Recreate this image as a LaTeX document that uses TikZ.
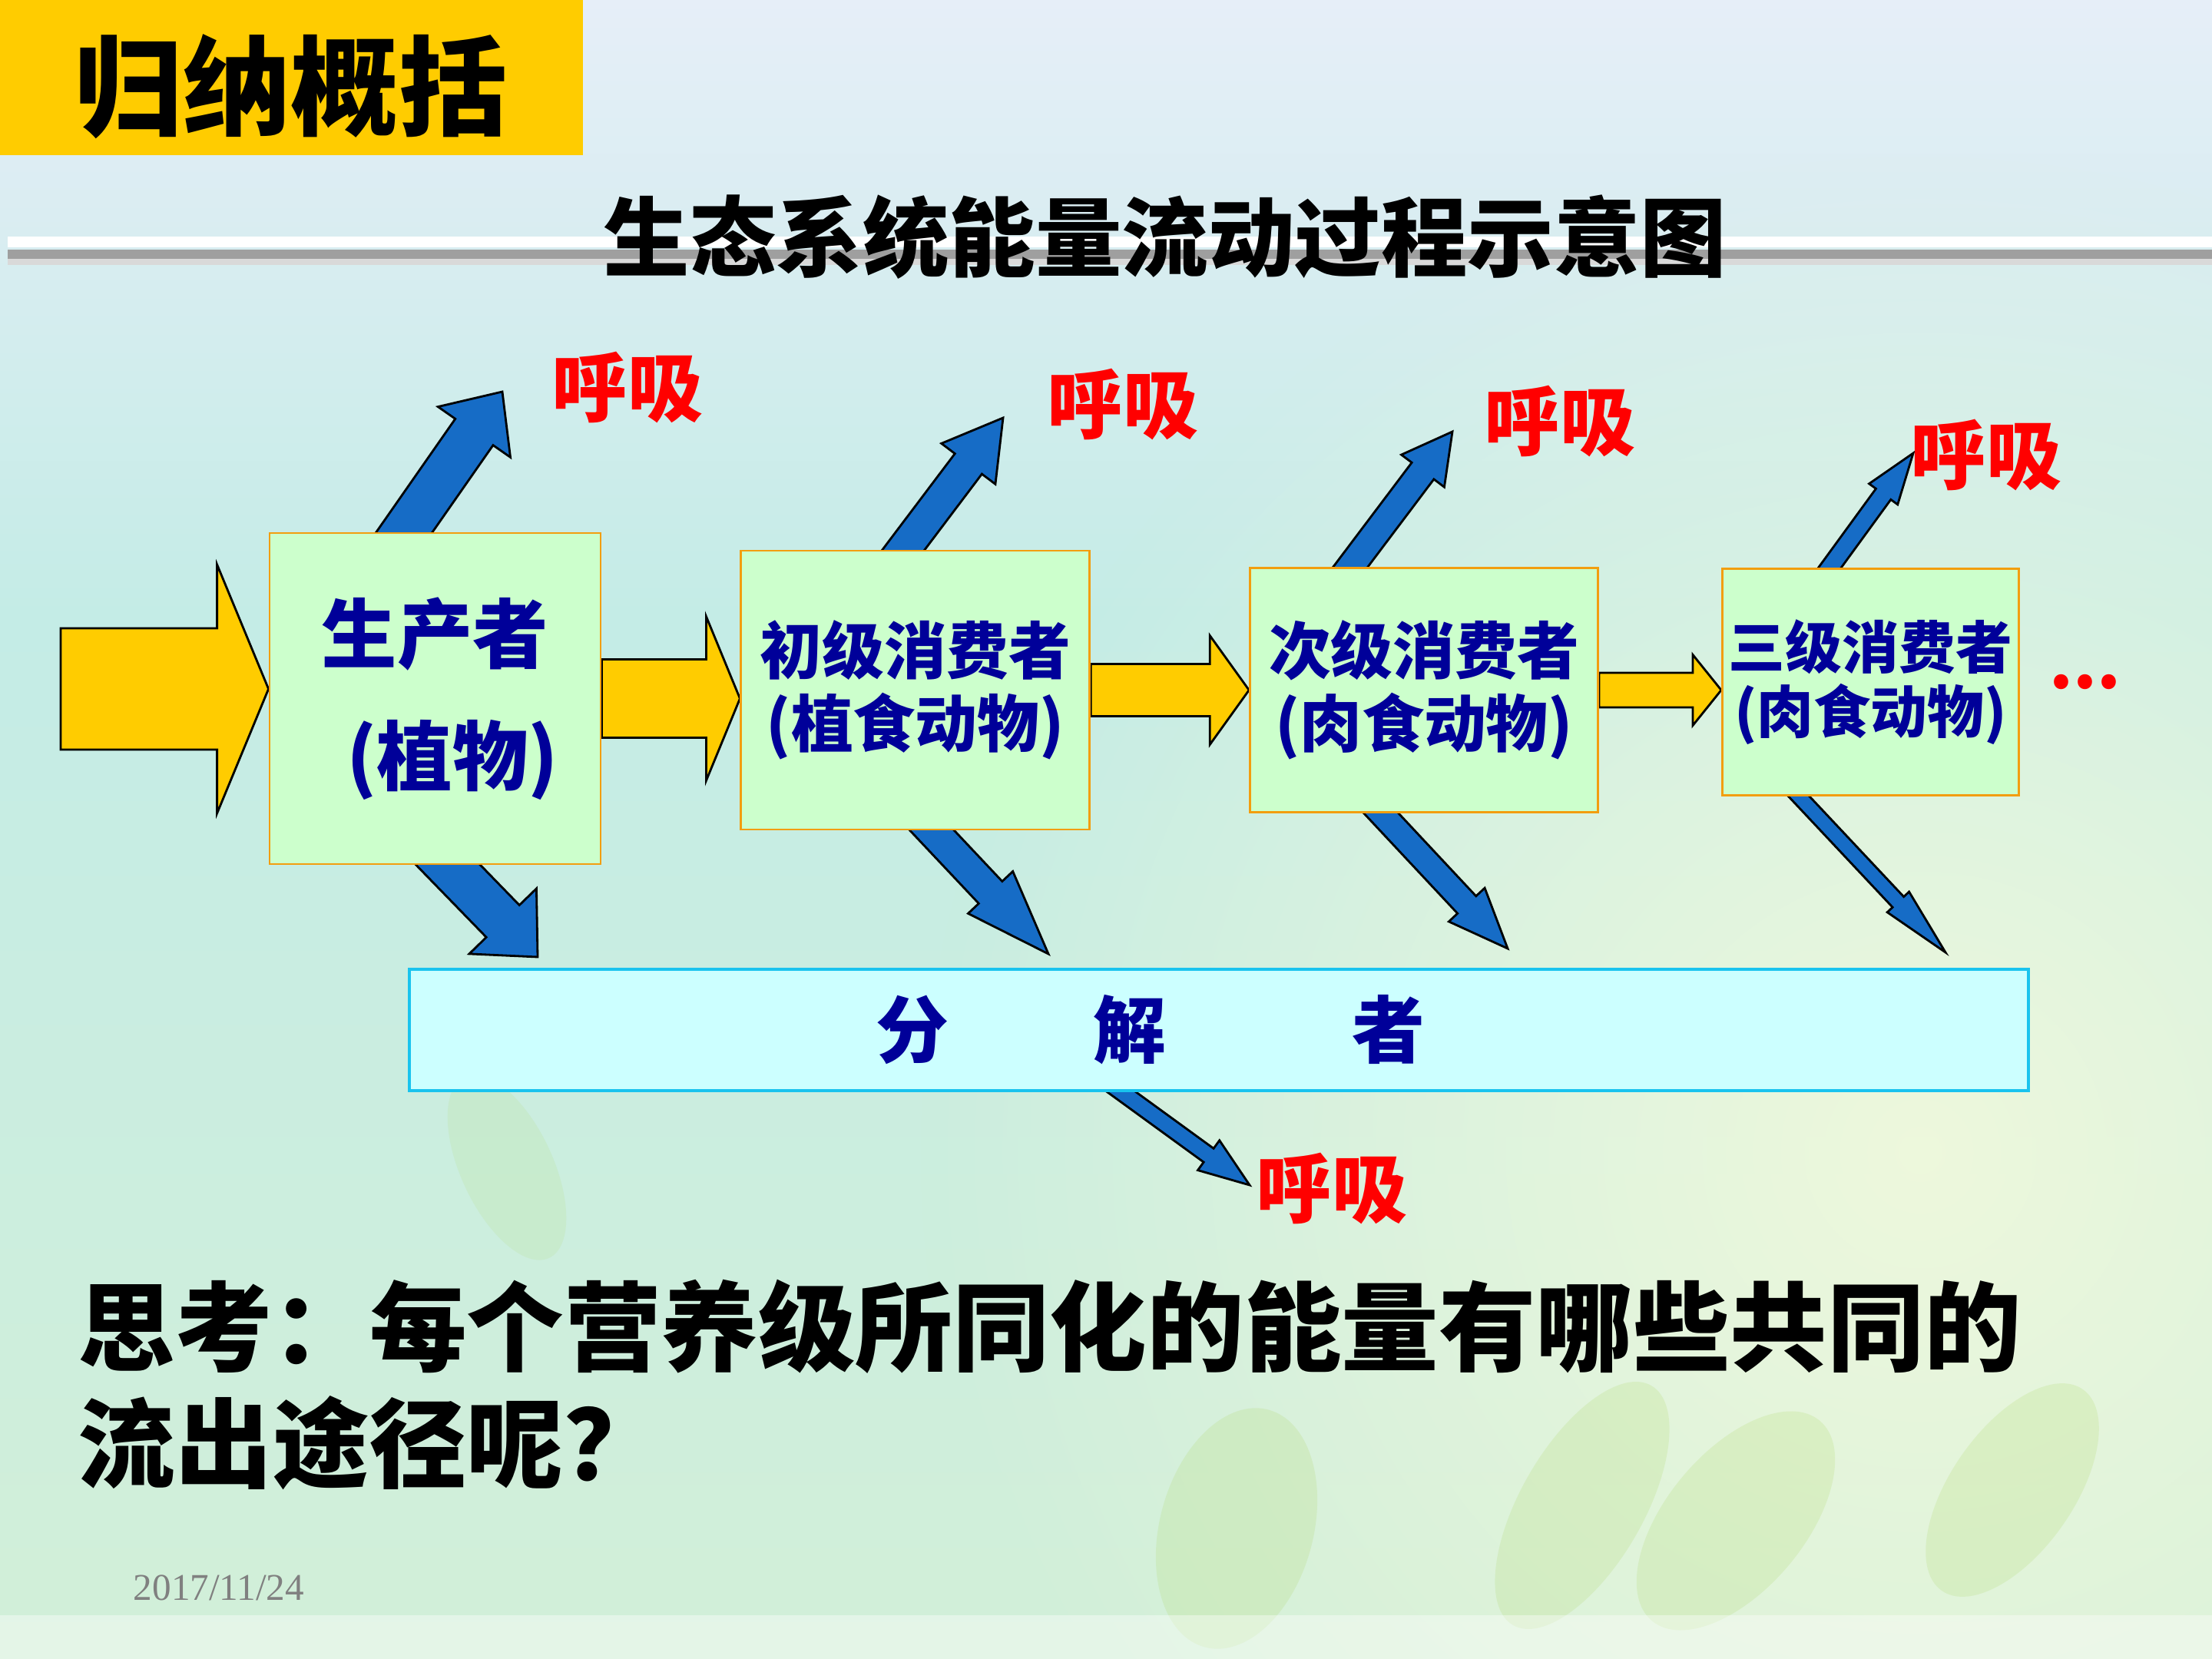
\documentclass[tikz,border=0pt]{standalone}
\usepackage{fontspec}
\setmainfont{Noto Sans CJK SC}
\newfontfamily\datefont{Liberation Serif}
\usetikzlibrary{positioning,calc,fadings}

\definecolor{boxgreen}{HTML}{CCFFCC}
\definecolor{boxedge}{HTML}{F29E0F}
\definecolor{decofill}{HTML}{CCFFFF}
\definecolor{decoedge}{HTML}{19C3EE}
\definecolor{flowyellow}{HTML}{FFCC00}
\definecolor{respblue}{HTML}{166CC6}
\definecolor{labelnavy}{HTML}{000099}
\definecolor{bgtop}{HTML}{E6EEF8}
\definecolor{bgmid}{HTML}{C4ECE6}
\definecolor{bglow}{HTML}{D2EFD8}
\definecolor{bgwarm}{HTML}{F4FADC}
\definecolor{leafgreen}{HTML}{B2DA72}

\tikzfading[name=warmglow, inner color=transparent!0, outer color=transparent!100]

\pgfdeclarelayer{backdrop}
\pgfdeclarelayer{arrows}
\pgfsetlayers{backdrop,arrows,main}

% block arrow: [style]{from}{to}{shaft half width}{head half width}{head length}
\newcommand{\blockarrow}[6][]{%
  \coordinate (ba-head) at ($(#3)!#6!(#2)$);
  \path[#1] ($(#2)!#4!90:(#3)$) -- ($(ba-head)!#4!90:(#3)$)
    -- ($(ba-head)!#5!90:(#3)$) -- (#3)
    -- ($(ba-head)!#5!-90:(#3)$) -- ($(ba-head)!#4!-90:(#3)$)
    -- ($(#2)!#4!-90:(#3)$) -- cycle;}

\begin{document}
\begin{tikzpicture}[
box/.style={
rectangle,
draw=boxedge,
line width=0.8pt,
fill=boxgreen,
inner sep=0pt,
align=center,
text=labelnavy
},
decobox/.style={
rectangle,
draw=decoedge,
line width=1pt,
fill=decofill,
inner sep=0pt,
text=labelnavy
},
flow/.style={fill=flowyellow, draw=black, line width=0.8pt},
resp/.style={fill=respblue, draw=black, line width=0.8pt},
resptext/.style={text=red, inner sep=0pt, font=\fontsize{28}{34}\selectfont\bfseries},
leaf/.style={fill=leafgreen, opacity=0.22}
]
\useasboundingbox (0,0) rectangle (28.8,-21.6);

% background, header and rule
\begin{pgfonlayer}{backdrop}
\shade[top color=bgtop, bottom color=bgmid] (0,0) rectangle (28.8,-8);
\shade[top color=bgmid, bottom color=bglow] (0,-8) rectangle (28.8,-21.6);
\fill[bgwarm, path fading=warmglow, opacity=0.85] (25,-15) circle (13);
\fill[leaf, rotate around={-15:(16.1,-19.9)}] (16.1,-19.9) ellipse (1.0 and 1.6);
\fill[leaf, rotate around={-30:(20.6,-19.6)}] (20.6,-19.6) ellipse (0.8 and 1.8);
\fill[leaf, rotate around={-40:(22.6,-19.8)}] (22.6,-19.8) ellipse (0.9 and 1.7);
\fill[leaf, rotate around={-35:(26.2,-19.4)}] (26.2,-19.4) ellipse (0.8 and 1.6);
\fill[leaf, opacity=0.15, rotate around={25:(6.6,-15.2)}] (6.6,-15.2) ellipse (0.6 and 1.3);
\fill[white, opacity=0.4] (0,-21.03) rectangle (28.8,-21.6);
\fill[flowyellow] (0,0) rectangle (7.59,-2.02);
\fill[white] (0.1,-3.08) rectangle (28.8,-3.22);
\fill[gray!75] (0.1,-3.25) rectangle (28.8,-3.37);
\fill[gray!30] (0.1,-3.37) rectangle (28.8,-3.45);
\end{pgfonlayer}

\node[inner sep=0pt, font=\fontsize{40}{48}\selectfont\bfseries] (head) at (3.79,-1.125) {归纳概括};
\node[inner sep=0pt, font=\fontsize{32}{38}\selectfont\bfseries] (title) at (15.17,-3.09) {生态系统能量流动过程示意图};

\node[box, minimum width=4.31cm, minimum height=4.31cm, font=\fontsize{28}{34}\selectfont\bfseries] (prod) at (5.665,-9.095) {生产者\\[0.4cm]\hspace*{0.45cm}(植物)};
\node[box, minimum width=4.54cm, minimum height=3.63cm, right=1.80cm of prod, yshift=0.11cm, font=\fontsize{23}{27}\selectfont\bfseries] (cons1) {初级消费者\\(植食动物)};
\node[box, minimum width=4.53cm, minimum height=3.18cm, right=2.06cm of cons1, font=\fontsize{23}{27}\selectfont\bfseries] (cons2) {次级消费者\\(肉食动物)};
\node[box, minimum width=3.86cm, minimum height=2.95cm, right=1.59cm of cons2, yshift=0.105cm, font=\fontsize{21}{24}\selectfont\bfseries] (cons3) {三级消费者\\(肉食动物)};
\node[text=red, inner sep=0pt, right=0.38cm of cons3, font=\fontsize{25}{30}\selectfont\bfseries] (more) {...};

\node[decobox, minimum width=21.08cm, minimum height=1.58cm, font=\fontsize{27}{32}\selectfont\bfseries] (decomp) at (15.87,-13.41) {分\hspace{1.89cm}解\hspace{2.42cm}者\hspace*{1.78cm}};

\node[resptext] (l1) at (8.17,-5.05) {呼吸};
\node[resptext] (l2) at (14.62,-5.27) {呼吸};
\node[resptext] (l3) at (20.31,-5.49) {呼吸};
\node[resptext] (l4) at (25.86,-5.93) {呼吸};
\node[resptext] (l5) at (17.34,-15.47) {呼吸};

\node[anchor=west, align=left, inner sep=0pt, font=\fontsize{36}{43}\selectfont\bfseries] (ask) at (1.01,-18.03) {思考：每个营养级所同化的能量有哪些共同的\\流出途径呢？};
\node[text=gray, inner sep=0pt, font=\datefont\fontsize{14}{17}\selectfont] (date) at (2.85,-20.67) {2017/11/24};

% arrow ends
\coordinate (sun) at (0.79,-8.97);
\coordinate (sunend) at (sun -| prod.west);
\coordinate (f1) at (prod.east -| cons1.west);
\coordinate (f2) at (cons1.east -| cons2.west);
\coordinate (f3) at (cons2.east -| cons3.west);
\coordinate (u1) at ($(prod.north west)+(1.54,-0.33)$);
\coordinate (u2) at ($(cons1.north west)+(1.89,-0.32)$);
\coordinate (u3) at ($(cons2.north west)+(1.08,-0.32)$);
\coordinate (u4) at ($(cons3.north west)+(1.18,-0.32)$);
\coordinate (v1) at ($(prod.south west)+(2.06,0.29)$);
\coordinate (v2) at ($(cons1.south west)+(2.23,0.29)$);
\coordinate (v3) at ($(cons2.south west)+(1.45,0.29)$);
\coordinate (v4) at ($(cons3.south west)+(0.74,0.29)$);
\coordinate (v5) at ($(decomp.south west)+(8.96,0.24)$);
\coordinate (r1) at (6.54,-5.10);
\coordinate (r2) at (13.06,-5.44);
\coordinate (r3) at (18.91,-5.62);
\coordinate (r4) at (24.91,-5.90);
\coordinate (r5) at (16.27,-15.43);
\coordinate (d1) at (7.00,-12.46);
\coordinate (d2) at (13.65,-12.42);
\coordinate (d3) at (19.63,-12.35);
\coordinate (d4) at (25.33,-12.40);

\begin{pgfonlayer}{arrows}
\blockarrow[flow]{sun}{sunend}{0.79cm}{1.62cm}{0.67cm}
\blockarrow[flow]{prod.east}{f1}{0.51cm}{1.07cm}{0.44cm}
\blockarrow[flow]{cons1.east}{f2}{0.34cm}{0.71cm}{0.51cm}
\blockarrow[flow]{cons2.east}{f3}{0.225cm}{0.46cm}{0.37cm}

\blockarrow[resp]{u1}{r1}{0.30cm}{0.575cm}{0.64cm}
\blockarrow[resp]{u2}{r2}{0.22cm}{0.44cm}{0.75cm}
\blockarrow[resp]{u3}{r3}{0.18cm}{0.35cm}{0.64cm}
\blockarrow[resp]{u4}{r4}{0.12cm}{0.23cm}{0.66cm}

\blockarrow[resp]{v1}{d1}{0.30cm}{0.61cm}{0.65cm}
\blockarrow[resp]{v2}{d2}{0.21cm}{0.40cm}{1.10cm}
\blockarrow[resp]{v3}{d3}{0.165cm}{0.32cm}{0.78cm}
\blockarrow[resp]{v4}{d4}{0.10cm}{0.195cm}{0.90cm}
\blockarrow[resp]{v5}{r5}{0.11cm}{0.24cm}{0.66cm}
\end{pgfonlayer}

\end{tikzpicture}
\end{document}
